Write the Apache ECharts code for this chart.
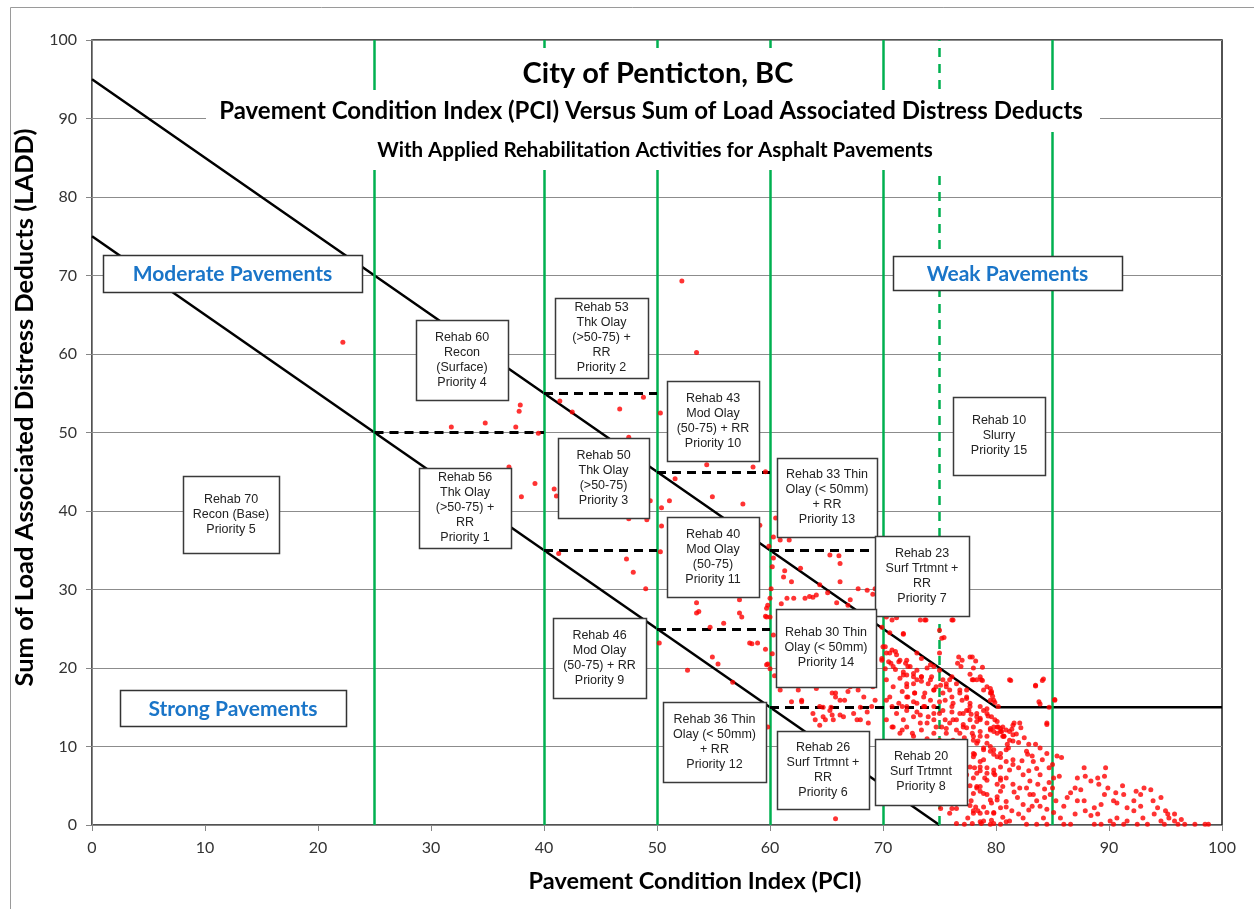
<!DOCTYPE html>
<html>
<head>
<meta charset="utf-8">
<script src="https://cdn.jsdelivr.net/npm/echarts@6/dist/echarts.min.js"></script>
<style>
html,body{margin:0;padding:0;background:#fff;}
#chart{width:1254px;height:909px;}
</style>
</head>
<body>
<div id="chart"></div>
<script>
// ---------- DATA ----------
const xTicks = [0, 10, 20, 30, 40, 50, 60, 70, 80, 90, 100];
const yTicks = [0, 10, 20, 30, 40, 50, 60, 70, 80, 90, 100];

// Boundary lines (PCI, LADD)
const upperBoundary = [[0, 95], [80, 15], [100, 15]];
const lowerBoundary = [[0, 75], [75, 0]];

// Green PCI threshold lines
const pciThresholdsSolid = [25, 40, 50, 60, 70, 85];
const pciThresholdsDashed = [75];

// Dashed black LADD thresholds: [pciFrom, pciTo, ladd]
const laddThresholds = [
  [25, 40, 50], [40, 50, 55], [50, 60, 45], [40, 50, 35],
  [60, 70, 35], [50, 60, 25], [60, 75, 15]
];

const titleTexts = [
  'City of Penticton, BC',
  'Pavement Condition Index (PCI) Versus Sum of Load Associated Distress Deducts',
  'With Applied Rehabilitation Activities for Asphalt Pavements'
];

const zoneLabels = ['Moderate Pavements', 'Weak Pavements', 'Strong Pavements'];

const rehabLabels = [
  'Rehab 70\nRecon (Base)\nPriority 5',
  'Rehab 60\nRecon\n(Surface)\nPriority 4',
  'Rehab 53\nThk Olay\n(>50-75) +\nRR\nPriority 2',
  'Rehab 43\nMod Olay\n(50-75) + RR\nPriority 10',
  'Rehab 56\nThk Olay\n(>50-75) +\nRR\nPriority 1',
  'Rehab 50\nThk Olay\n(>50-75)\nPriority 3',
  'Rehab 33 Thin\nOlay (< 50mm)\n+ RR\nPriority 13',
  'Rehab 40\nMod Olay\n(50-75)\nPriority 11',
  'Rehab 23\nSurf Trtmnt +\nRR\nPriority 7',
  'Rehab 46\nMod Olay\n(50-75) + RR\nPriority 9',
  'Rehab 30 Thin\nOlay (< 50mm)\nPriority 14',
  'Rehab 36 Thin\nOlay (< 50mm)\n+ RR\nPriority 12',
  'Rehab 26\nSurf Trtmnt +\nRR\nPriority 6',
  'Rehab 20\nSurf Trtmnt\nPriority 8',
  'Rehab 10\nSlurry\nPriority 15'
];

// Observed sections: [PCI, LADD]
const sectionsSparse = [
  [22.2,61.5],[52.2,69.3],[53.5,60.2],
  [37.9,53.5],[37.8,52.7],[34.8,51.2],[31.8,50.7],[37.5,50.7],[39.5,49.9],
  [41.4,54.0],[42.5,52.6],[46.7,53.0],[48.8,54.5],[50.3,52.5],[47.5,49.4],
  [36.9,45.6],[39.2,43.5],[38.0,41.8],[40.9,42.8],[41.1,41.9],
  [49.4,41.3],[47.5,39.0],[49.1,38.9],[50.4,38.1],[50.4,40.4],[51.1,41.3],[51.6,44.1],
  [54.4,45.9],[58.5,45.6],[59.6,45.0],[54.9,41.8],[57.6,40.9],[60.5,39.1],[59.1,38.2],
  [41.3,34.6],[47.3,33.9],[50.3,34.8],[47.9,32.2],[49.0,30.1],
  [50.2,23.2],[52.7,19.7],[53.5,28.3],[53.7,27.2],[53.5,27.0],[57.3,27.0],[55.9,25.7],[54.7,25.2],
  [58.2,23.2],[58.9,23.2],[59.6,22.4],[59.8,20.5],[59.8,28.0],[59.7,26.5],[54.9,21.4],[55.4,20.5],[56.7,18.2],
  [59.8,12.5],[65.8,0.8],[57.3,28.7],[57.5,26.5],[58.4,23.1],[59.7,20.4]
];

const sectionsMid = [
  [60.3,36.7],[60.9,36.3],[61.7,36.3],[65.3,34.4],[66.1,34.3],[60.2,32.9],[61.3,32.4],[62.7,32.7],
  [61.2,31.6],[61.9,31.0],[66.2,31.0],[67.8,30.1],[68.6,29.9],[69.1,29.4],[60.0,28.9],[61.5,28.9],
  [62.1,28.9],[63.1,28.9],[63.8,29.0],[64.1,29.3],[65.1,29.6],[65.9,28.3],[66.9,28.0],[59.7,27.6],
  [59.6,26.6],[60.0,26.5],[66.2,33.3],[64.4,30.6],[63.5,29.1],[67.1,28.7],[69.3,30.1],[61.0,28.2],
  [69.9,25.2],[70.6,24.5],[71.8,24.3],[71.2,26.4],[73.3,26.1],[76.1,26.1],[77.7,21.4],[77.0,21.0],
  [76.6,20.6],[81.2,18.5],[78.8,20.1],
  [60.1,30.1],[60.3,24.2],[60.2,21.8],[60.0,19.9],[60.4,19.0],[60.3,34.0],[59.9,35.5],
  [60.9,17.2],[62.5,17.2],[64.1,17.4],[65.8,16.8],[66.2,15.9],[67.1,17.6],[67.8,17.2],[68.3,16.3],
  [69.1,17.6],[69.3,15.9],[69.0,15.1],[68.6,14.4],[67.4,14.2],[66.5,13.8],[65.6,13.4],[64.7,13.8],
  [64.0,13.4],[62.8,15.7],[61.9,15.7],[64.4,15.1],[65.3,14.6],[68.0,13.4],[68.7,13.0],[62.8,15.9],
  [64.7,15.0],[65.4,15.0],[65.5,14.0],[64.9,13.4],[66.2,14.0],[64.4,12.7],[65.5,16.8],[65.8,16.3],
  [66.6,15.9],[66.9,17.0],[67.3,18.1],[68.0,15.0],[67.7,13.4],[63.8,14.2]
];

const sectionsDenseA = [
  [70.3,26.5],[70.8,26.1],[75.0,24.8],[73.7,26.1],[76.2,26.1],[75.2,23.8],[76.7,21.4],[76.9,20.2],[78.0,20.0],
  [70.2,22.7],[70.6,21.9],[71.1,22.1],[71.5,21.0],[69.9,21.2],[70.7,20.6],[71.1,19.8],[70.2,19.9],[72.0,20.6],
  [72.1,19.1],[72.7,18.0],[73.4,18.9],[73.9,20.0],[74.3,18.9],[74.7,17.6],[75.3,18.5],[75.6,17.6],[76.1,18.9],
  [76.5,18.0],[76.8,16.8],[77.4,17.2],[78.0,18.5],[78.6,18.9],[79.2,17.6],[79.5,16.8],[79.8,15.9],
  [70.3,15.9],[70.8,15.1],[71.2,14.2],[71.7,15.1],[72.1,16.3],[72.7,15.7],[73.0,14.4],[73.6,15.1],[74.0,13.8],
  [74.5,15.1],[75.0,14.2],[75.5,13.4],[76.1,14.4],[76.5,13.4],[77.1,14.2],[77.7,13.4],[78.0,12.5],[78.6,13.4],
  [79.2,13.0],[79.5,12.1],[79.8,12.5],[80.1,11.7],[80.4,12.3],[80.6,11.3],[80.9,12.1],[81.2,10.8],[81.5,11.5],
  [70.3,13.4],[70.9,12.5],[71.5,11.7],[72.1,12.5],[72.7,11.3],[73.4,12.1],[73.9,11.0],[74.5,11.7],[75.0,10.8],
  [75.6,11.7],[76.2,10.8],[76.8,11.7],[78.0,10.8],[78.6,11.3],[79.2,10.4],[79.8,9.6],[80.4,9.1],[80.9,9.6],[81.5,8.3],
  [78.0,9.1],[77.7,7.4],[78.3,6.6],[78.9,8.3],[79.2,5.7],[78.6,4.9],[78.0,4.0],[79.8,6.6],[80.4,7.4],[80.6,4.9],
  [80.1,3.2],[78.9,2.3],[78.0,1.5],[77.7,2.5],[79.8,1.5],[80.9,2.3],[78.6,0.4],[79.8,0.2],[80.9,0.4],[76.5,0.2],
  [77.2,0.1],[75.9,1.5],[76.1,2.1],
  [71.8,24.4],[73.8,26.1],[75.4,23.9],[72.1,21.0],[72.4,20.2],[73.0,19.7],[72.7,18.9],[71.8,19.1],[73.4,18.3],
  [74.2,18.5],[74.5,17.2],[75.1,17.8],[75.6,18.0],[75.9,17.2],
  [78.7,18.5],[79.5,17.4],[79.6,16.8],[72.1,17.6],[72.8,16.8],[73.6,16.3],[74.2,15.9],[75.0,15.7],
  [75.5,15.9],[76.2,15.5],[77.0,15.9],[77.7,15.1],[78.3,14.2],[78.9,14.6],[79.6,13.8],[80.1,12.5],[80.4,11.9],
  [80.7,11.3],[72.1,14.6],[72.7,13.8],[73.3,14.0],[73.9,13.0],[74.5,13.4],[75.2,12.5],[75.9,13.0],[76.5,12.1],
  [77.1,12.5],[77.9,11.7],[78.6,11.9],[79.2,11.3],[71.7,12.1],[72.6,11.7],[78.3,10.4],[78.9,9.6],[79.5,10.0],
  [80.1,8.7],[78.0,8.7],[78.6,7.4],[79.2,6.6],[79.8,7.0],[80.4,5.7],[78.3,4.9],[78.9,4.0],[79.5,3.2],[80.1,3.6],
  [78.2,2.3],[78.6,1.5],[79.6,0.6],[77.9,0.2],[78.7,0.2],[75.1,2.1],[76.5,2.1]
];

const sectionsDenseC = [
  [70.0,22.7],[70.3,21.9],[70.8,22.3],[71.2,21.7],[69.9,21.0],[70.5,20.8],[70.9,20.2],[71.4,20.8],[71.8,19.5],
  [72.2,20.2],[72.7,19.3],[71.5,18.7],[72.1,18.0],[73.0,18.5],[73.4,18.9],[74.0,18.0],[74.5,17.2],[73.7,16.8],
  [72.8,16.8],[72.2,16.3],[71.7,17.0],[70.9,17.6],[70.3,18.5],[70.6,16.3],[71.4,15.5],[72.1,15.1],[73.0,15.5],
  [73.7,15.1],[74.5,14.2],[75.3,14.6],[76.1,15.1],[76.8,14.2],[77.6,14.6],[78.3,13.8],[79.2,14.2],[79.9,13.4],
  [80.6,12.5],[81.5,12.7],[75.3,16.8],[76.1,16.3],[76.8,17.2],[77.4,16.3],[77.7,15.5],
  [74.5,20.2],[75.0,19.7],[75.9,18.5],[74.2,20.4],[73.4,21.2],[75.0,21.9],[73.0,21.9],
  [78.3,18.5],[78.9,17.2],[79.5,15.9],[80.2,15.1],[78.6,15.1],[76.2,13.4],[74.7,12.5],[73.3,13.0],[71.8,13.4],
  [70.8,12.5],[75.6,12.3],
  [81.4,12.2],[81.8,11.6],[82.2,12.4],[81.6,13.0],[82.5,11.1],[81.0,10.3],[82.8,9.0],[83.6,7.2],[82.3,8.2],
  [81.2,7.0],[83.9,6.4],[84.3,4.6],[82.9,6.9],[81.6,4.2],[82.9,1.9],[81.4,1.8],[80.6,1.0],[77.5,0.9]
];

const sectionsDenseB = [
  [77.9,21.4],[78.2,20.9],[77.7,19.2],[77.9,18.5],[78.8,18.4],[77.4,16.1],[79.6,17.0],
  [79.7,16.4],[81.3,18.4],[83.5,17.7],[84.1,18.4],[83.9,15.4],[85.2,15.9],[84.7,15.0],[84.5,12.8],[79.9,15.6],
  [79.2,14.8],[77.4,14.6],[77.8,14.1],[78.3,13.2],[78.6,13.6],[79.3,13.9],[80.1,13.2],[80.2,12.5],[79.8,11.9],
  [80.5,11.9],[79.5,12.3],[80.7,11.3],[81.2,11.9],[82.1,13.0],[81.5,10.7],[81.1,9.8],[82.0,10.5],[82.9,10.3],
  [83.5,10.3],[83.9,9.8],[82.7,9.4],[83.2,8.8],[83.3,8.1],[84.1,8.3],[84.5,9.1],[84.7,7.3],[85.0,7.7],[85.4,8.8],
  [85.8,8.6],[85.1,6.0],[85.6,6.2],[84.7,5.4],[85.0,4.7],[84.8,3.9],[85.3,3.1],[84.3,3.5],[83.7,5.2],[83.3,3.9],
  [83.0,5.6],[82.4,6.4],[82.0,7.3],[81.5,7.7],[80.9,8.1],[80.4,8.6],[79.8,9.0],[79.5,9.4],[78.9,9.8],[78.4,10.7],
  [78.0,11.3],[77.4,12.4],[77.1,12.8],[77.2,11.1],[78.1,9.0],[78.6,8.1],[79.2,7.3],[79.9,6.4],[80.4,6.0],[80.9,6.0],
  [81.5,5.2],[82.1,4.7],[82.7,4.7],[83.0,3.9],[83.6,3.1],[83.2,2.4],[82.4,2.6],[81.9,3.5],[80.9,3.0],[80.4,4.3],
  [80.1,5.2],[79.0,6.0],[78.6,6.9],[78.1,7.3],[78.0,6.0],[78.3,4.7],[77.7,5.0],[77.4,6.4],[77.1,7.7],[77.8,3.1],
  [78.6,4.3],[79.2,3.9],[79.6,2.8],[80.4,2.2],[79.8,1.6],[79.2,1.6],[78.4,1.8],[78.0,1.8],[78.9,0.5],[79.5,0.1],
  [80.4,0.1],[81.2,0.5],[82.0,1.4],[82.4,0.9],[82.7,0.1],[83.6,0.1],[84.2,0.9],[84.5,0.1],[83.9,2.4],[84.5,2.0],
  [85.1,1.6],[85.7,0.9],[86.0,0.1],[86.6,0.1],[86.0,2.4],[86.3,3.5],[86.6,4.1],[87.0,4.7],[87.2,6.0],[87.8,7.3],
  [87.9,6.2],[88.4,5.6],[87.5,4.5],[87.2,3.1],[87.8,3.1],[87.9,1.8],[87.0,1.4],[88.4,1.2],[88.7,0.1],[89.3,0.1],
  [89.0,1.4],[88.7,2.2],[89.3,2.6],[89.6,3.9],[89.1,5.2],[89.0,6.0],[89.7,7.3],[89.6,6.2],[89.9,4.7],[90.6,4.1],
  [90.4,3.1],[91.2,5.0],[91.3,3.9],[90.7,2.8],[91.6,2.2],[92.4,4.3],[92.2,3.1],[92.8,3.9],[93.1,4.7],[93.7,4.5],
  [93.9,3.1],[92.8,2.4],[92.2,1.8],[93.0,0.9],[93.4,0.1],[92.5,0.1],[91.6,0.5],[90.7,0.9],[90.1,0.5],[90.4,0.1],
  [91.3,0.1],[94.0,1.4],[94.6,0.5],[95.2,1.4],[95.0,1.8],[95.3,0.9],[95.8,0.5],[96.1,0.1],[96.7,0.1],[96.4,0.7],
  [95.8,1.4],[94.3,2.2],[94.6,3.5],[94.9,0.1],[97.6,0.1],[98.5,0.1],[98.8,0.1],[84.2,18.6],[83.5,17.8],
  [83.8,15.7],[85.2,16.0],[84.5,13.0]
];

// ---------- LAYOUT (pixels) ----------
const GRID = {left: 92, top: 40, right: 32, bottom: 84};
const titleLayout = [
  {cx: 658, cy: 74, size: 29, bg: [450, 48, 420, 42]},
  {cx: 651, cy: 111, size: 24, bg: [206, 90, 894, 42]},
  {cx: 655, cy: 150, size: 20.5, bg: [350, 132, 610, 38]}
];
const zoneLayout = [
  [103, 255, 259, 37],
  [893, 256, 229, 34],
  [120, 690, 226, 36]
];
const rehabLayout = [
  [183, 476, 96, 77],
  [416, 320, 92, 80],
  [555, 298, 93, 80],
  [667, 381, 92, 80],
  [419, 468, 92, 80],
  [558, 438, 91, 80],
  [777, 458, 100, 79],
  [667, 517, 92, 80],
  [875, 536, 94, 80],
  [553, 618, 93, 80],
  [776, 609, 100, 78],
  [663, 702, 103, 80],
  [777, 731, 92, 78],
  [875, 739, 92, 66],
  [953, 397, 92, 78]
];

// ---------- BUILD ----------
const allSections = sectionsSparse.concat(sectionsMid, sectionsDenseA, sectionsDenseC, sectionsDenseB);

const graphics = [];
graphics.push({type: 'rect', z: 0, silent: true,
  shape: {x: 10.5, y: 7.5, width: 1400, height: 1000},
  style: {fill: 'none', stroke: '#9a9a9a', lineWidth: 1}});

titleTexts.forEach((t, i) => {
  const L = titleLayout[i];
  graphics.push({type: 'rect', z: 100, silent: true,
    shape: {x: L.bg[0], y: L.bg[1], width: L.bg[2], height: L.bg[3]},
    style: {fill: '#fff', stroke: null}});
  graphics.push({type: 'text', z: 101, silent: true, x: L.cx, y: L.cy,
    style: {text: t, align: 'center', verticalAlign: 'middle',
      fontFamily: 'Lato', fontWeight: 'bold', fontSize: L.size, fill: '#000'}});
});

zoneLabels.forEach((t, i) => {
  const b = zoneLayout[i];
  graphics.push({type: 'rect', z: 102, silent: true,
    shape: {x: b[0] + 0.5, y: b[1] + 0.5, width: b[2], height: b[3]},
    style: {fill: '#fff', stroke: '#333', lineWidth: 1.5}});
  graphics.push({type: 'text', z: 103, silent: true, x: b[0] + b[2] / 2, y: b[1] + b[3] / 2 + 1,
    style: {text: t, align: 'center', verticalAlign: 'middle',
      fontFamily: 'Lato', fontWeight: 'bold', fontSize: 21, fill: '#1a75c8'}});
});

rehabLabels.forEach((t, i) => {
  const b = rehabLayout[i];
  graphics.push({type: 'rect', z: 102, silent: true,
    shape: {x: b[0] + 0.5, y: b[1] + 0.5, width: b[2], height: b[3]},
    style: {fill: '#fff', stroke: '#3a3a3a', lineWidth: 1.5}});
  graphics.push({type: 'text', z: 103, silent: true, x: b[0] + b[2] / 2, y: b[1] + b[3] / 2,
    style: {text: t, align: 'center', verticalAlign: 'middle',
      fontFamily: 'Liberation Sans', fontSize: 12.5, lineHeight: 15, fill: '#222'}});
});

const greenMarks = pciThresholdsSolid.map(x => ({xAxis: x, lineStyle: {color: '#00b050', width: 2.5, type: 'solid'}}))
  .concat(pciThresholdsDashed.map(x => ({xAxis: x, lineStyle: {color: '#00b050', width: 2.5, type: [9, 7]}})));

const dashedMarks = laddThresholds.map(s => [{coord: [s[0], s[2]]}, {coord: [s[1], s[2]]}]);

const chart = echarts.init(document.getElementById('chart'), null, {renderer: 'canvas'});
chart.setOption({
  animation: false,
  backgroundColor: '#fff',
  grid: {left: GRID.left, top: GRID.top, right: GRID.right, bottom: GRID.bottom,
    show: true, borderColor: '#1a1a1a', borderWidth: 1.5, backgroundColor: 'transparent'},
  xAxis: {
    type: 'value', min: xTicks[0], max: xTicks[xTicks.length - 1], interval: 10,
    name: 'Pavement Condition Index (PCI)', nameLocation: 'middle', nameGap: 44,
    nameTextStyle: {fontFamily: 'Lato', fontWeight: 'bold', fontSize: 23.5, color: '#000',
      padding: [0, 0, 0, 76]},
    axisLine: {show: true, lineStyle: {color: '#868686', width: 1}},
    axisTick: {show: true, length: 6, lineStyle: {color: '#868686'}},
    axisLabel: {fontFamily: 'Lato', fontSize: 16, color: '#333', margin: 15},
    splitLine: {show: false}
  },
  yAxis: {
    type: 'value', min: yTicks[0], max: yTicks[yTicks.length - 1], interval: 10,
    name: 'Sum of Load Associated Distress Deducts (LADD)', nameLocation: 'middle', nameGap: 40,
    nameTextStyle: {fontFamily: 'Lato', fontWeight: 'bold', fontSize: 25.5, color: '#000',
      padding: [0, 0, 0, 50]},
    axisLine: {show: true, lineStyle: {color: '#868686', width: 1}},
    axisTick: {show: true, length: 6, lineStyle: {color: '#868686'}},
    axisLabel: {fontFamily: 'Lato', fontSize: 16, color: '#333', margin: 15},
    splitLine: {show: true, lineStyle: {color: '#8c8c8c', width: 1}}
  },
  graphic: graphics,
  series: [
    {name: 'PCI thresholds', type: 'line', data: [], z: 2, silent: true,
      markLine: {silent: true, symbol: 'none', label: {show: false}, data: greenMarks}},
    {name: 'LADD thresholds', type: 'line', data: [], z: 3, silent: true,
      markLine: {silent: true, symbol: 'none', label: {show: false},
        lineStyle: {color: '#000', width: 3, type: [9, 6]}, data: dashedMarks}},
    {name: 'Upper boundary', type: 'line', data: upperBoundary, showSymbol: false, symbol: 'none', z: 4,
      lineStyle: {color: '#000', width: 2.5}},
    {name: 'Lower boundary', type: 'line', data: lowerBoundary, showSymbol: false, symbol: 'none', z: 4,
      lineStyle: {color: '#000', width: 2.5}},
    {name: 'Sections', type: 'scatter', data: allSections, z: 5, symbol: 'circle', symbolSize: 5,
      itemStyle: {color: '#ff0000'}}
  ]
});
</script>
</body>
</html>
